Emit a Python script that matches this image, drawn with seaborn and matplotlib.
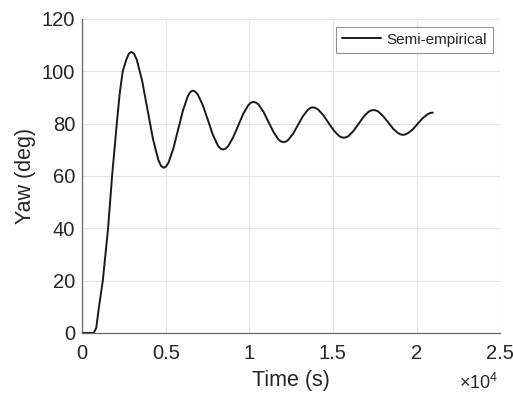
import matplotlib
matplotlib.use("Agg")
import matplotlib.pyplot as plt
import seaborn as sns
import pandas as pd

# Time (s) and yaw (deg)
time_s = [0, 300, 600, 700, 850, 1000, 1240, 1555, 1795, 2075, 2250, 2430, 2650, 2800, 2950,
          3111, 3272, 3593, 3915, 4237, 4558, 4719, 4880,
          5025, 5170, 5460, 5750, 6040, 6330, 6475, 6620,
          6770, 6920, 7220, 7520, 7820, 8120, 8270, 8420,
          8573, 8725, 9030, 9335, 9640, 9945, 10098, 10250,
          10399, 10548, 10847, 11145, 11443, 11742, 11891, 12040,
          12187, 12333, 12627, 12920, 13213, 13507, 13653, 13800,
          13954, 14108, 14417, 14725, 15033, 15342, 15496, 15650,
          15798, 15945, 16240, 16535, 16830, 17125, 17272, 17420,
          17567, 17713, 18007, 18300, 18593, 18887, 19033, 19180,
          19329, 19478, 19777, 20075, 20373, 20672, 20821, 20970]
yaw_deg = [0, 0, 0, 0, 2.0, 9.5, 20, 40, 60, 80, 91.5, 100, 104.5, 106.8, 107.4,
           106.65, 104.4, 96.3, 85.2, 74.2, 66.1, 63.85, 63.1,
           63.6, 65.1, 70.5, 77.9, 85.2, 90.6, 92.1, 92.6,
           92.2, 91.1, 87.0, 81.4, 75.7, 71.6, 70.5, 70.1,
           70.4, 71.3, 74.7, 79.2, 83.8, 87.1, 88.0, 88.3,
           88.0, 87.3, 84.5, 80.6, 76.8, 73.9, 73.2, 72.9,
           73.1, 73.8, 76.2, 79.6, 82.9, 85.3, 86.0, 86.2,
           86.0, 85.4, 83.3, 80.4, 77.5, 75.4, 74.8, 74.6,
           74.8, 75.3, 77.3, 79.9, 82.6, 84.5, 85.0, 85.2,
           85.0, 84.6, 82.8, 80.5, 78.1, 76.4, 75.9, 75.7,
           75.85, 76.3, 77.8, 80.0, 82.1, 83.6, 84.05, 84.2]
series_name = "Semi-empirical"
xtick_vals = [0, 5000, 10000, 15000, 20000, 25000]
xtick_labels = ["0", "0.5", "1", "1.5", "2", "2.5"]
ytick_vals = [0, 20, 40, 60, 80, 100, 120]

df = pd.DataFrame({"Time": time_s, "Yaw": yaw_deg, "Series": series_name})

sns.set_style("white")
plt.rcParams["font.family"] = ["Liberation Sans", "DejaVu Sans"]
plt.rcParams["mathtext.fontset"] = "custom"
plt.rcParams["mathtext.rm"] = "Liberation Sans"
plt.rcParams["mathtext.it"] = "Liberation Sans"

fig = plt.figure(figsize=(5.13, 3.94), dpi=100)
ax = fig.add_axes([0.160, 0.155, 0.815, 0.797])

sns.lineplot(data=df, x="Time", y="Yaw", hue="Series", palette=["#1a1a1a"],
             linewidth=1.4, ax=ax)

ax.set_xlim(0, 25000)
ax.set_ylim(0, 120)
ax.set_xticks(xtick_vals)
ax.set_xticklabels(xtick_labels)
ax.set_yticks(ytick_vals)
ax.grid(True, color="#e3e3e3", linewidth=0.8)
ax.set_axisbelow(True)

axis_col = "#666666"
for s in ["top", "right"]:
    ax.spines[s].set_visible(False)
for s in ["left", "bottom"]:
    ax.spines[s].set_color(axis_col)
    ax.spines[s].set_linewidth(0.9)
ax.tick_params(axis="both", direction="in", length=4, width=0.8, color=axis_col,
               labelsize=14.5, labelcolor="#262626", pad=5)
ax.tick_params(axis="x", pad=8)

ax.set_xlabel("Time (s)", fontsize=15.5, color="#262626", labelpad=5)
ax.set_ylabel("Yaw (deg)", fontsize=15.5, color="#262626", labelpad=4)

ax.text(0.995, -0.158, r"$\times10^{4}$", transform=ax.transAxes, ha="right", va="center",
        fontsize=13, color="#262626")

leg = ax.legend(loc="upper right", fontsize=11, frameon=True, fancybox=False,
                handlelength=2.6, borderaxespad=0.5, handletextpad=0.3,
                borderpad=0.4)
leg.get_frame().set_edgecolor("#777777")
leg.get_frame().set_linewidth(0.8)

fig.savefig("out.png", dpi=100)
